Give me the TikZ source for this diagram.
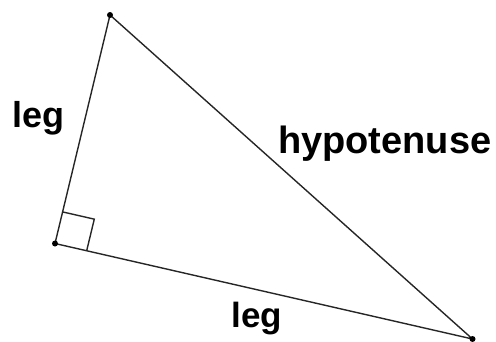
\documentclass[tikz,border=0pt]{standalone}
\usepackage{fontspec}
\setmainfont{Liberation Sans}
\usetikzlibrary{calc}
\begin{document}
\begin{tikzpicture}[x=1pt,y=-1pt,
  edge/.style={line width=1.4pt,black!85},
  vdot/.style={circle,fill=black,inner sep=0pt,minimum size=6pt},
  lbl/.style={inner sep=0pt,anchor=base west,font=\bfseries}]
\useasboundingbox (0,0) rectangle (496,341);
\coordinate (T) at (110,15);
\coordinate (L) at (55,243.5);
\coordinate (R) at (472.5,339);
\draw[edge] (T) -- (L) -- (R) -- cycle;
\node[vdot] (dT) at (T) {};
\node[vdot] (dL) at (L) {};
\node[vdot] (dR) at (R) {};
% right angle mark
\coordinate (s1) at ($(L)!32.5pt!(T)$);
\coordinate (s3) at ($(L)!32.5pt!(R)$);
\coordinate (s2) at ($(s1)+(s3)-(L)$);
\draw[edge] (s1) -- (s2) -- (s3);
\node[lbl,font=\bfseries\fontsize{36}{40}\selectfont] (leg1) at (12,127) {leg};
\node[lbl,font=\bfseries\fontsize{38}{42}\selectfont] (hyp) at (278,153) {hypotenuse};
\node[lbl,font=\bfseries\fontsize{35}{40}\selectfont] (leg2) at (231.5,327) {leg};
\end{tikzpicture}
\end{document}
